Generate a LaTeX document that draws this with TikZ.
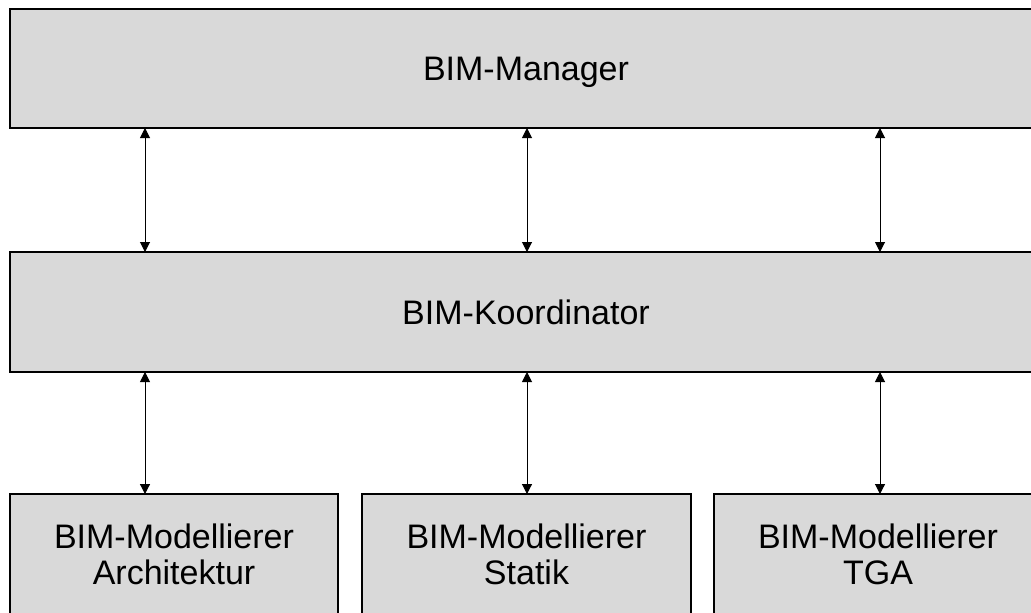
\documentclass[tikz,border=0pt]{standalone}
\usepackage{fontspec}
\setmainfont{Liberation Sans}
\usetikzlibrary{arrows.meta}
\definecolor{boxgray}{HTML}{D9D9D9}
\tikzset{
  rolebox/.style={draw=black, fill=boxgray, line width=1.1pt, inner sep=0pt, outer sep=0pt,
    align=center, font=\fontsize{25.5pt}{27pt}\selectfont, anchor=center},
  link/.style={line width=0.75pt, {Triangle[length=7.5pt,width=7.5pt]}-{Triangle[length=7.5pt,width=7.5pt]}, shorten <=0pt, shorten >=0pt}
}
\begin{document}
\begin{tikzpicture}[x=0.75pt,y=-0.75pt]
\useasboundingbox (0,0) rectangle (1031,612);
\node[rolebox, text depth=0pt, minimum width=774pt, minimum height=89.25pt] (mgr) at (526,68.5) {BIM-Manager};
\node[rolebox, text depth=0pt, minimum width=774pt, minimum height=90pt] (koord) at (526,312) {BIM-Koordinator};
\node[rolebox, minimum width=246pt, minimum height=91pt] (arch) at (174,554.7) {BIM-Modellierer\\Architektur};
\node[rolebox, minimum width=246.75pt, minimum height=91pt] (stat) at (526.5,554.7) {BIM-Modellierer\\Statik};
\node[rolebox, minimum width=246pt, minimum height=91pt] (tga) at (878,554.7) {BIM-Modellierer\\TGA};
\coordinate (c1) at (145,0);
\coordinate (c2) at (527,0);
\coordinate (c3) at (880,0);
\draw[link] (c1 |- mgr.south) -- (c1 |- koord.north);
\draw[link] (c2 |- mgr.south) -- (c2 |- koord.north);
\draw[link] (c3 |- mgr.south) -- (c3 |- koord.north);
\draw[link] (c1 |- koord.south) -- (c1 |- arch.north);
\draw[link] (c2 |- koord.south) -- (c2 |- stat.north);
\draw[link] (c3 |- koord.south) -- (c3 |- tga.north);
\end{tikzpicture}
\end{document}
